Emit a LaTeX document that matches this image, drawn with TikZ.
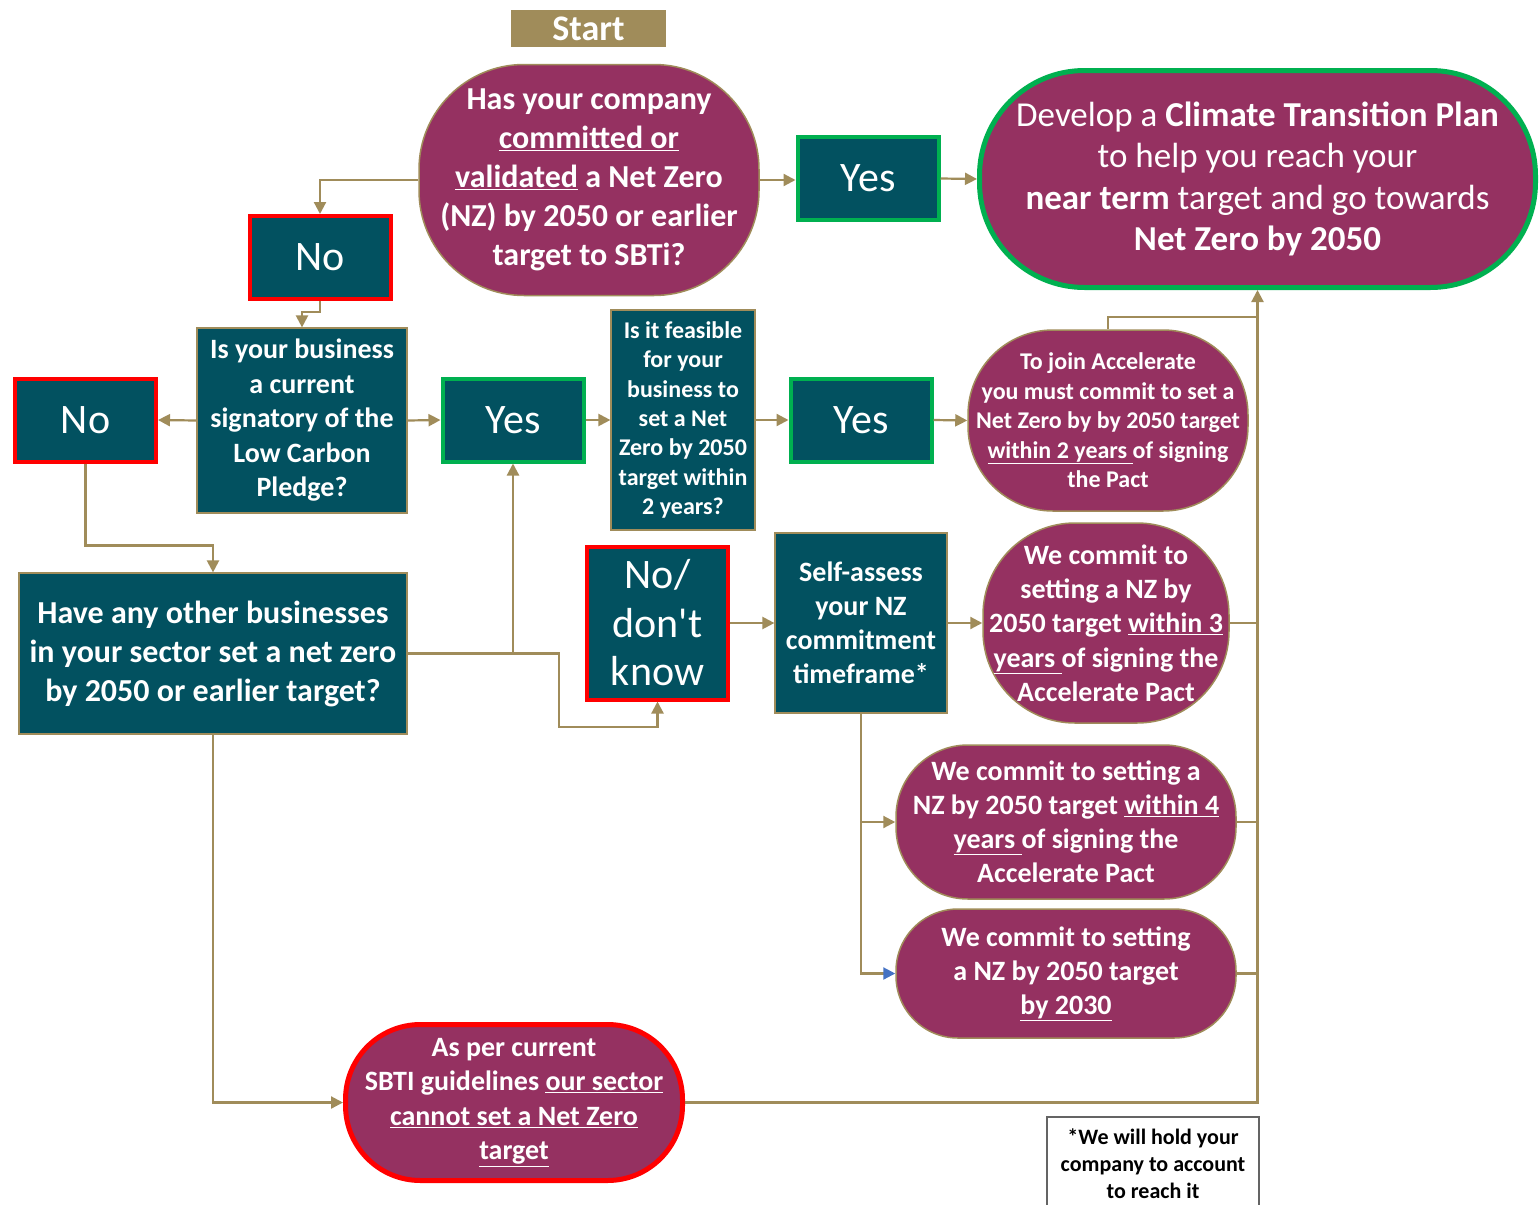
\documentclass[tikz,border=0pt]{standalone}
\usepackage{fontspec}
\setmainfont{Carlito}
\usetikzlibrary{arrows.meta,calc}
\definecolor{nzteal}{RGB}{2,81,96}
\definecolor{nzplum}{RGB}{149,49,97}
\definecolor{nztan}{RGB}{160,140,90}
\definecolor{nzgreen}{RGB}{0,176,80}
\definecolor{nzred}{RGB}{255,0,0}
\definecolor{nzblue}{RGB}{68,114,196}
\definecolor{nzgrey}{RGB}{100,100,100}
\tikzset{
  base/.style={inner sep=0pt, align=center, text=white},
  qbox/.style={base, rectangle, fill=nzteal, draw=nztan, line width=1.2pt},
  yesbox/.style={base, fill=nzteal, draw=nzgreen, line width=4pt,
    minimum width=141pt, minimum height=83pt, font=\fontsize{42}{48.5}\selectfont},
  nobox/.style={yesbox, draw=nzred},
  pill/.style={base, fill=nzplum, draw=nztan, line width=1.5pt},
  conn/.style={draw=nztan, line width=2.2pt, -{Triangle[length=12pt,width=12pt]}},
  wire/.style={draw=nztan, line width=2.2pt},
}

\begin{document}
\begin{tikzpicture}[x=1pt, y=-1pt, line join=miter]
\def\spinex{1257.5}
\fill[white] (0,0) rectangle (1540,1205);
\useasboundingbox (0,0) rectangle (1540,1205);

% top row
\node[base, fill=nztan, minimum width=155pt, minimum height=37pt,
  font=\fontsize{36}{40}\selectfont\bfseries] (start) at (588.5,28.5) {Start};
\node[pill, minimum width=340pt, minimum height=231pt, rounded corners=105pt,
  font=\fontsize{32}{39}\selectfont\bfseries] (q1) at (589,180)
  {Has your company\\ \underline{committed or}\\ \underline{validated} a Net Zero\\
   (NZ) by 2050 or earlier\\ target to SBTi?};
\node[yesbox] (yes1) at (868,178.5) {Yes};
\node[pill, draw=nzgreen, line width=5pt, minimum width=556pt, minimum height=217pt,
  rounded corners=105pt, font=\fontsize{35}{41.5}\selectfont] (plan) at (\spinex,179)
  {Develop a \textbf{Climate Transition Plan}\\ to help you reach your\\
   \textbf{near term} target and go towards\\ \textbf{Net Zero by 2050}};
\node[nobox] (no1) at (320,257.5) {No};

% second row
\node[qbox, minimum width=210pt, minimum height=185pt,
  font=\fontsize{28}{34.5}\selectfont\bfseries] (q2) at (302,420.5)
  {Is your business\\ a current\\ signatory of the\\ Low Carbon\\ Pledge?};
\node[nobox] (no2) at (85.5,420) {No};
\node[yesbox] (yes2) at (513,420) {Yes};
\node[qbox, minimum width=144pt, minimum height=220pt,
  font=\fontsize{24}{29.4}\selectfont\bfseries] (q3) at (683,420)
  {Is it feasible\\ for your\\ business to\\ set a Net\\ Zero by 2050\\ target within\\ 2 years?};
\node[yesbox] (yes3) at (861,420) {Yes};
\node[pill, minimum width=280pt, minimum height=181pt, rounded corners=85pt,
  font=\fontsize{24}{29.5}\selectfont\bfseries] (r1) at (1108,420.5)
  {To join Accelerate\\ you must commit to set a\\ Net Zero by by 2050 target\\
   \underline{within 2 years\ }of signing\\ the Pact};

% third row
\node[nobox, minimum width=141pt, minimum height=153pt] (nodk) at (657.5,623)
  {No/\\ don\textquotesingle t\\ know};
\node[qbox, minimum width=388pt, minimum height=161pt,
  font=\fontsize{32}{39}\selectfont\bfseries] (q4) at (213,653.5)
  {Have any other businesses\\ in your sector set a net zero\\ by 2050 or earlier target?};
\node[qbox, minimum width=172pt, minimum height=180pt,
  font=\fontsize{28}{34}\selectfont\bfseries] (self) at (861,623)
  {Self-assess\\ your NZ\\ commitment\\ timeframe*};
\node[pill, minimum width=246pt, minimum height=200pt, rounded corners=92pt,
  font=\fontsize{28}{34.3}\selectfont\bfseries] (r2) at (1106,623)
  {We commit to\\ setting a NZ by\\ 2050 target \underline{within 3}\\
   \underline{years\ }of signing the\\ Accelerate Pact};
\node[pill, minimum width=340pt, minimum height=154pt, rounded corners=72pt,
  font=\fontsize{28}{34}\selectfont\bfseries] (r3) at (1066,822)
  {We commit to setting a\\ NZ by 2050 target \underline{within 4}\\
   \underline{years\ }of signing the\\ Accelerate Pact};
\node[pill, minimum width=340pt, minimum height=129pt, rounded corners=62pt,
  font=\fontsize{28}{34}\selectfont\bfseries] (r4) at (1066,973.5)
  {We commit to setting\\ a NZ by 2050 target\\ \underline{by 2030}};
\node[pill, draw=nzred, line width=5pt, minimum width=337pt, minimum height=156pt,
  rounded corners=75pt, font=\fontsize{28}{34.5}\selectfont\bfseries] (r5) at (514,1102.5)
  {As per current\\ SBTI guidelines \underline{our sector}\\
   \underline{cannot set a Net Zero}\\ \underline{target}};
\node[base, fill=white, draw=nzgrey, line width=1.5pt, text=black,
  minimum width=212pt, minimum height=93pt,
  font=\fontsize{22}{27}\selectfont\bfseries] (note) at (1153,1163.5)
  {*We will hold your\\ company to account\\ to reach it};

% connectors
\coordinate (kink) at (559,727);
\coordinate (join) at (\spinex,317);
\draw[conn] (q1.west) -| (no1.north);
\draw[conn] (q1.east) -- (q1.east -| yes1.west);
\draw[conn] (yes1.east) -- (plan.west);
\draw[conn] (no1.south) -- ++(0,11) -| (q2.north);
\draw[conn] (q2.west) -- (no2.east);
\draw[conn] (q2.east) -- (yes2.west);
\draw[conn] (yes2.east) -- (q3.west);
\draw[conn] (q3.east) -- (yes3.west);
\draw[conn] (yes3.east) -- (r1.west);
\draw[conn] (no2.south) -- ++(0,82) -| (q4.north);
\draw[conn] (q4.east) -| (yes2.south);
\draw[conn] (q4.east) -| (kink) -| (nodk.south);
\draw[conn] (nodk.east) -- (self.west);
\draw[conn] (self.east) -- (r2.west);
\draw[conn] (self.south) |- (r3.west);
\draw[wire, -{Triangle[length=12pt,width=12pt,color=nzblue]}] (self.south) |- (r4.west);
\draw[conn] (q4.south) |- (r5.west);
\draw[conn] (r5.east) -| (plan.south);
\draw[wire] (r1.north) |- (join);
\draw[wire] (r2.east) -- (r2.east -| plan.south);
\draw[wire] (r3.east) -- (r3.east -| plan.south);
\draw[wire] (r4.east) -- (r4.east -| plan.south);
\end{tikzpicture}
\end{document}
